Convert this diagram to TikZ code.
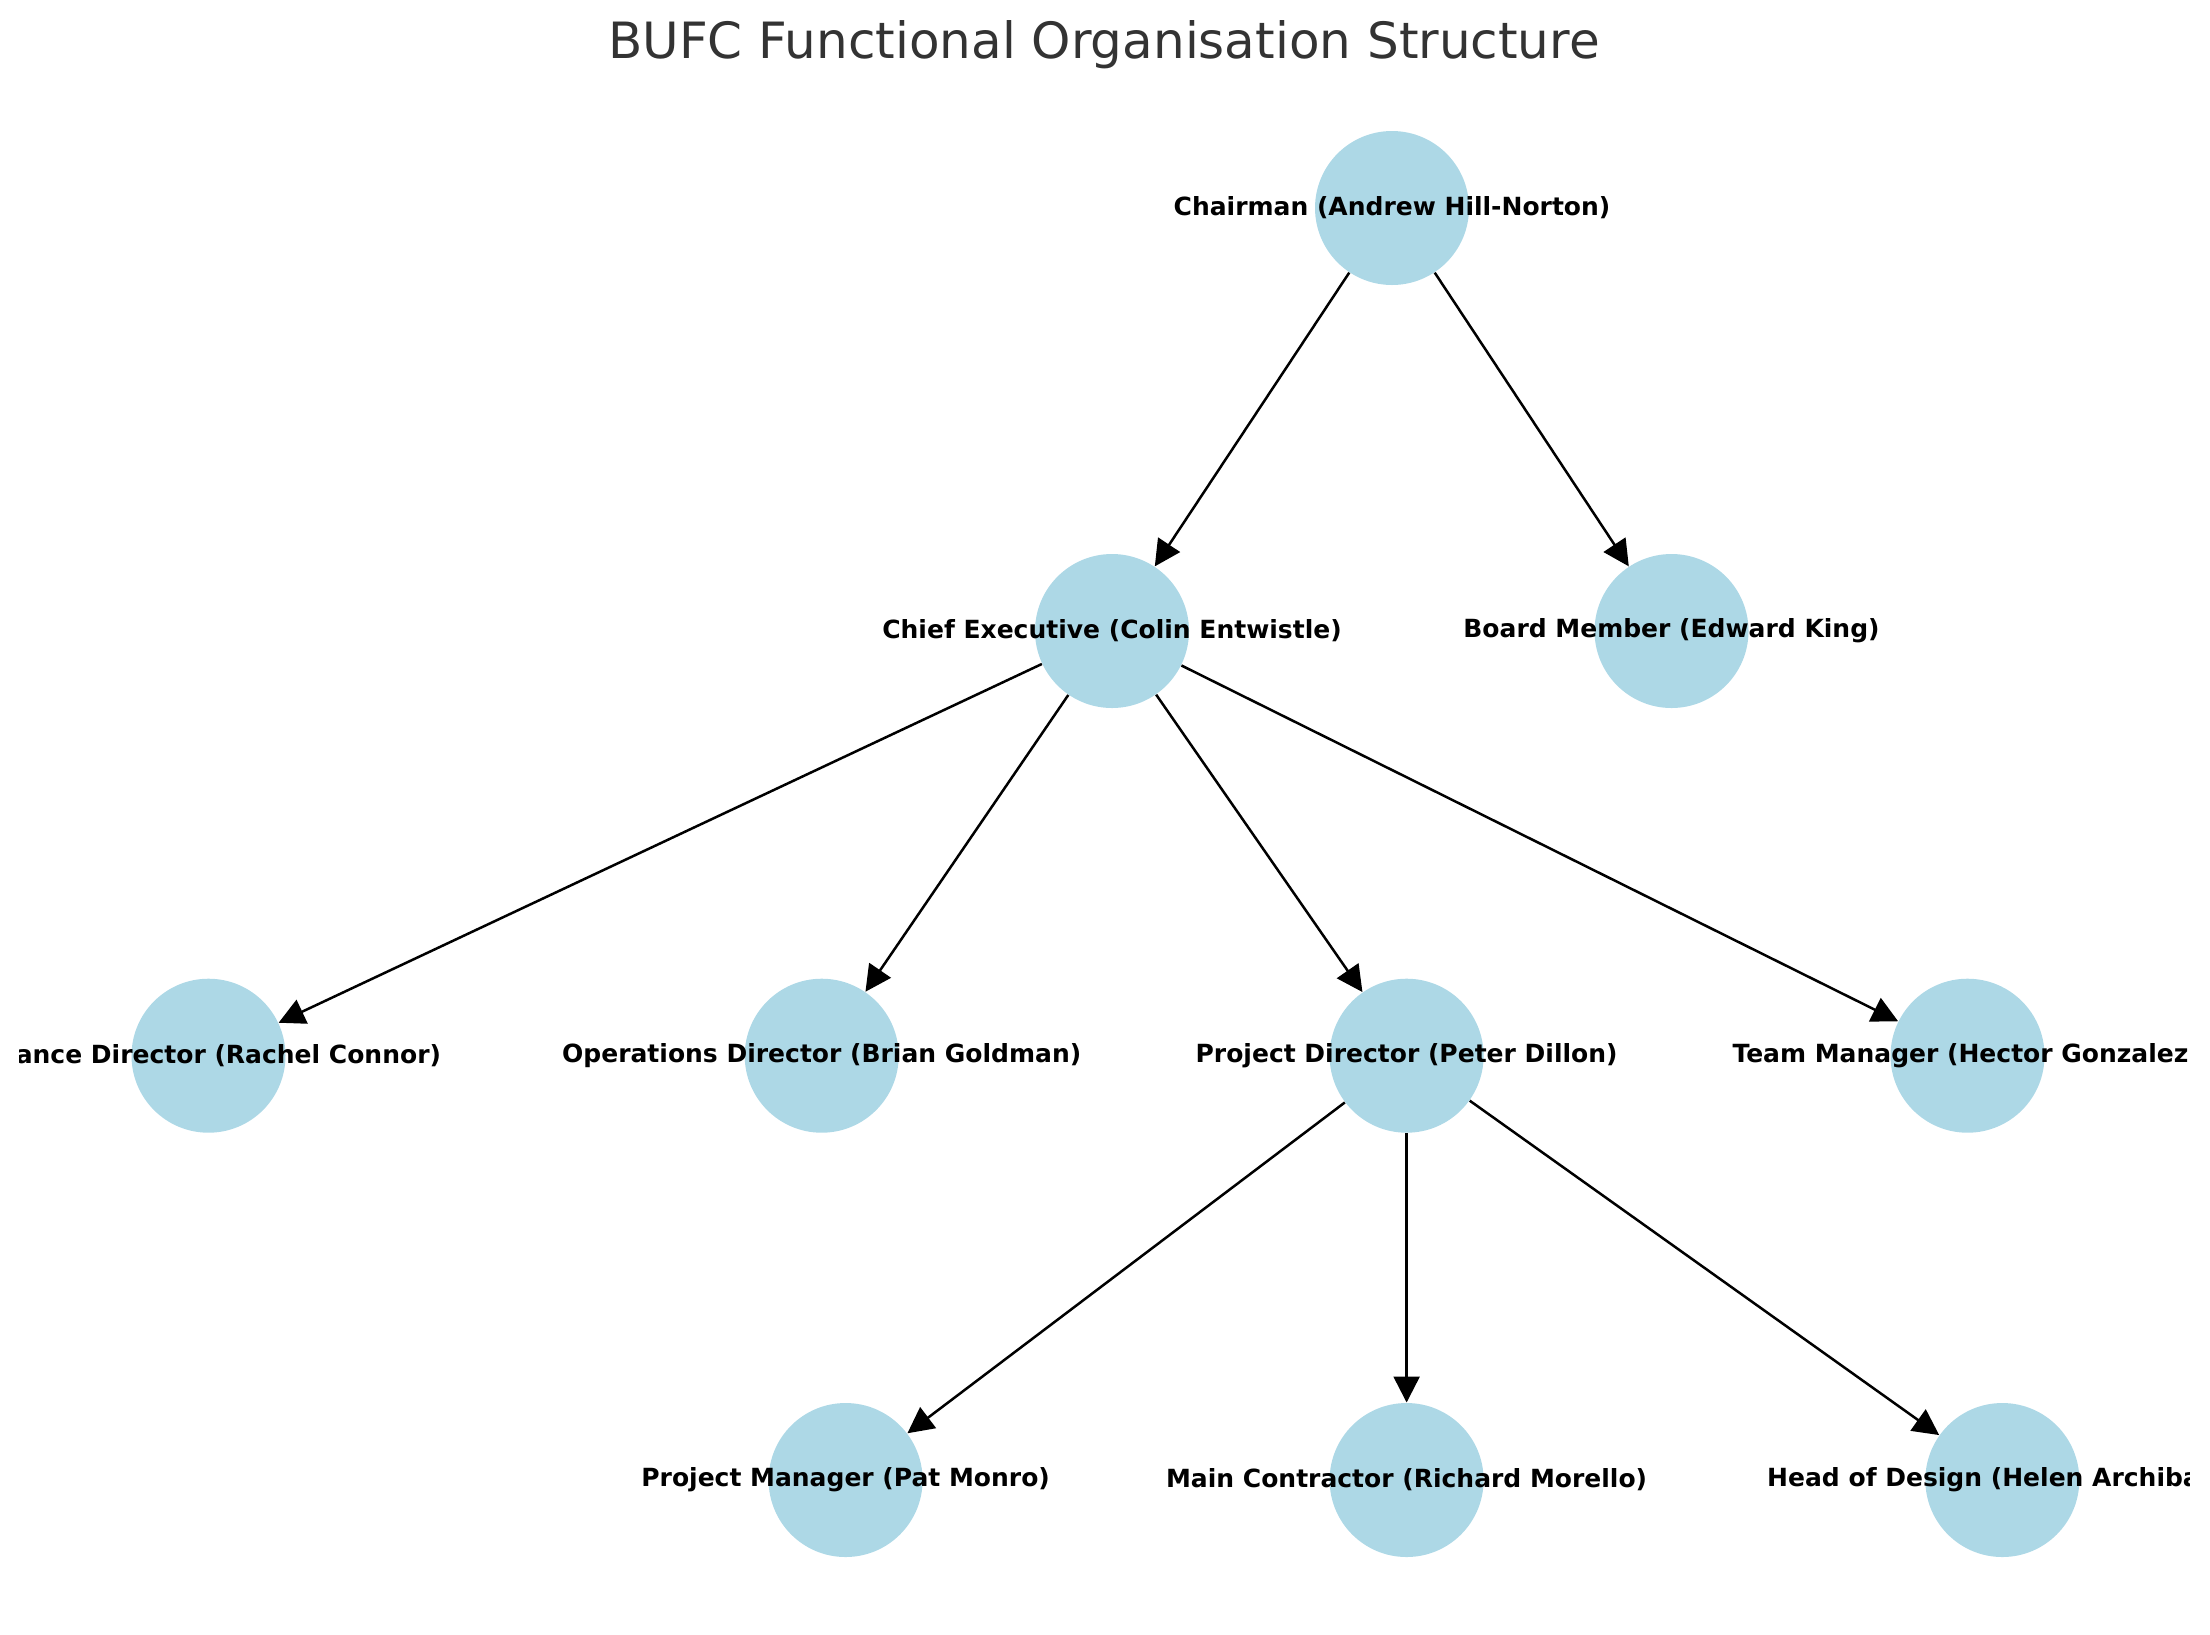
\documentclass[tikz,border=0pt]{standalone}
\usepackage{fontspec}
\setmainfont{DejaVu Sans}
\usetikzlibrary{arrows.meta,calc}
\definecolor{nodeblue}{HTML}{ADD8E6}
\definecolor{titlegrey}{HTML}{333333}
\tikzset{
	person/.style={circle, fill=nodeblue, minimum size=61.6pt, inner sep=0pt},
	lbl/.style={font=\bfseries\fontsize{10}{12}\selectfont, inner sep=0pt},
	link/.style={line width=1pt, -{Triangle[length=10.4pt, width=10.4pt]}},
}
\begin{document}
\begin{tikzpicture}[x=0.4pt, y=-0.4pt]
		\useasboundingbox (0,0) rectangle (2210,1634);
		% Title
		\node[font=\fontsize{20}{24}\selectfont, text=titlegrey, anchor=base] (Title) at (1104,58) {BUFC Functional Organisation Structure} ;
		% Board level
		\node[person] (Chairman) at (1392,208) {} ;
		\node[person] (ChiefExec) at (1112,631) {} ;
		\node[person] (Board) at (1671.5,631) {} ;
		% Directors
		\node[person] (Finance) at (208.5,1055.7) {} ;
		\node[person] (Operations) at (821.7,1055.7) {} ;
		\node[person] (ProjDir) at (1406.6,1055.7) {} ;
		\node[person] (TeamMgr) at (1967.5,1055.7) {} ;
		% Project team
		\node[person] (ProjMgr) at (845.6,1480) {} ;
		\node[person] (Contractor) at (1406.6,1480) {} ;
		\node[person] (Design) at (2002.3,1480) {} ;
		% Reporting lines
		\draw[link] (Chairman) -- (ChiefExec) ;
		\draw[link] (Chairman) -- (Board) ;
		\draw[link] (ChiefExec) -- (Finance) ;
		\draw[link] (ChiefExec) -- (Operations) ;
		\draw[link] (ChiefExec) -- (ProjDir) ;
		\draw[link] (ChiefExec) -- (TeamMgr) ;
		\draw[link] (ProjDir) -- (ProjMgr) ;
		\draw[link] (ProjDir) -- (Contractor) ;
		\draw[link] (ProjDir) -- (Design) ;
		% Names
		\begin{scope}
			\clip (19,0) rectangle (2189,1634);
			\node[lbl] (ChairmanTxt) at (Chairman) {Chairman (Andrew Hill-Norton)} ;
			\node[lbl] (ChiefExecTxt) at (ChiefExec) {Chief Executive (Colin Entwistle)} ;
			\node[lbl] (BoardTxt) at (Board) {Board Member (Edward King)} ;
			\node[lbl, anchor=east] (FinanceTxt) at ($(Finance)+(233,0)$) {ance Director (Rachel Connor)} ;
			\node[lbl] (OperationsTxt) at (Operations) {Operations Director (Brian Goldman)} ;
			\node[lbl] (ProjDirTxt) at (ProjDir) {Project Director (Peter Dillon)} ;
			\node[lbl, anchor=west] (TeamMgrTxt) at ($(TeamMgr)+(-235.5,0)$) {Team Manager (Hector Gonzalez} ;
			\node[lbl] (ProjMgrTxt) at (ProjMgr) {Project Manager (Pat Monro)} ;
			\node[lbl] (ContractorTxt) at (Contractor) {Main Contractor (Richard Morello)} ;
			\node[lbl, anchor=west] (DesignTxt) at ($(Design)+(-235.6,0)$) {Head of Design (Helen Archiba} ;
		\end{scope}
	\end{tikzpicture}
\end{document}
